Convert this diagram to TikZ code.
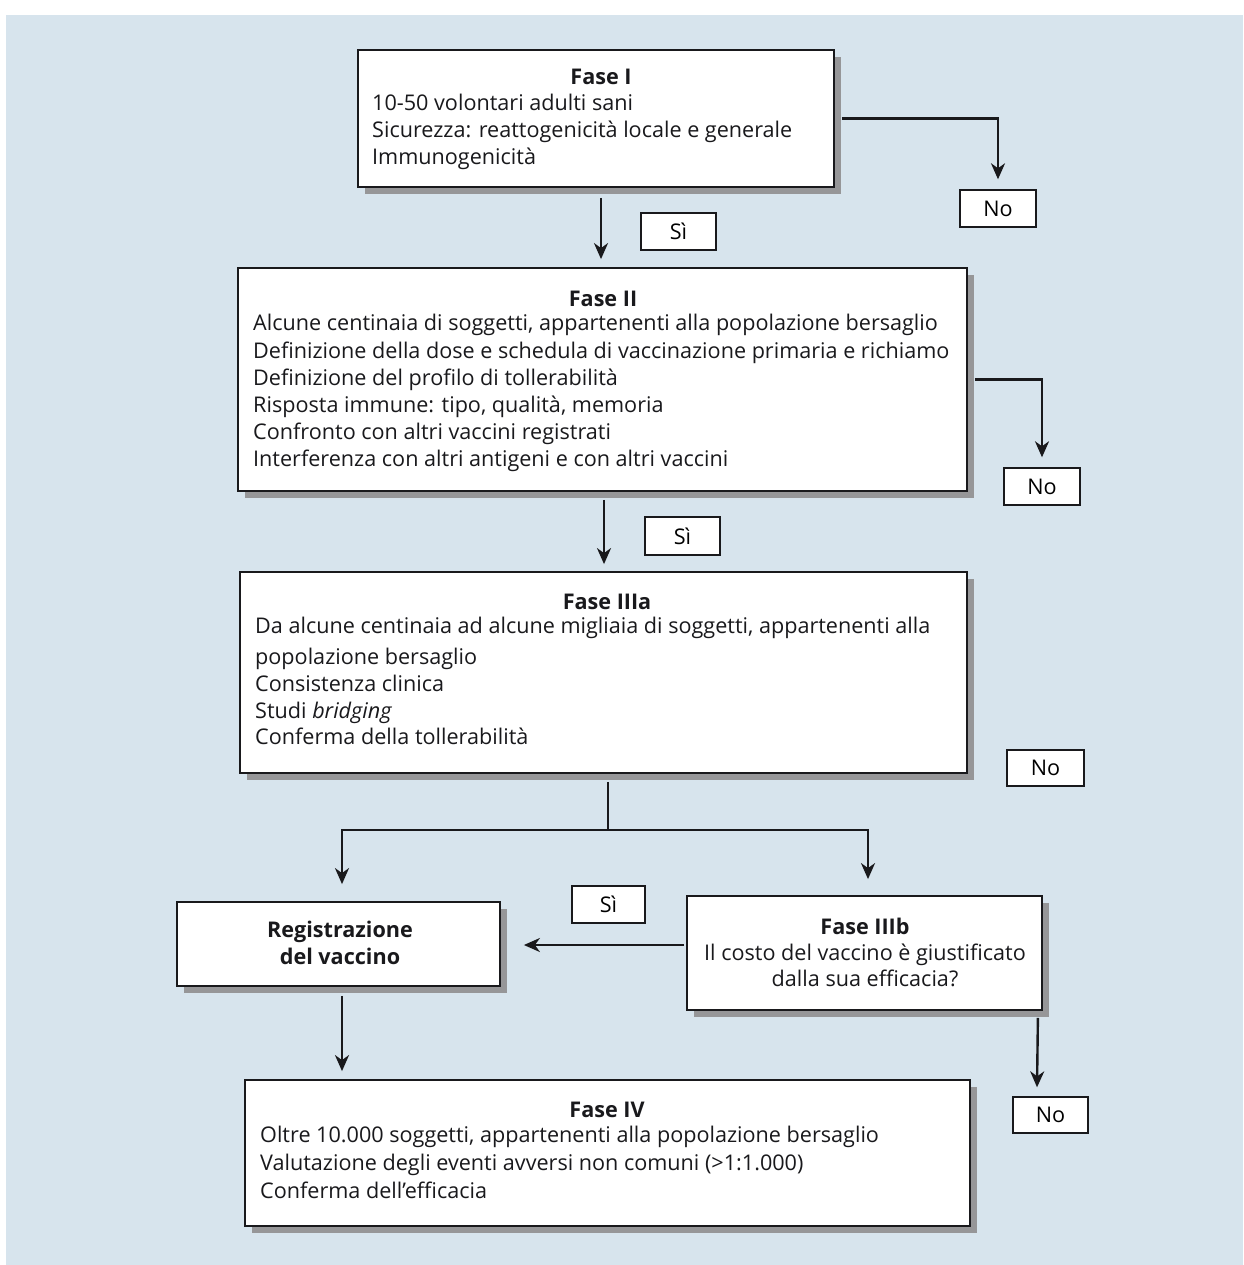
\documentclass[tikz,border=0pt]{standalone}
\usepackage{fontspec}
\setmainfont{Open Sans}
\usetikzlibrary{arrows.meta,shadows,calc}
\definecolor{bgblue}{RGB}{215,228,237}
\definecolor{shadowgray}{RGB}{150,150,152}
\definecolor{ink}{RGB}{25,25,28}
\newcommand\fs{\fontsize{21.6}{26}\selectfont}
\begin{document}
\begin{tikzpicture}[x=1pt,y=-1pt,
  box/.style={draw=ink, line width=1.8pt, fill=white, inner sep=0pt,
    general shadow={fill=shadowgray, shadow xshift=7pt, shadow yshift=-7pt}},
  tag/.style={draw=ink, line width=1.4pt, fill=white, inner sep=0pt, font=\fs},
  txt/.style={inner sep=0pt, font=\fs, text=ink},
  ttl/.style={inner sep=0pt, font=\fs\bfseries, text=ink},
  arr/.style={line width=2.4pt, draw=ink, -{Stealth[length=16pt,width=14pt,inset=5pt]}},
  lin/.style={line width=2.4pt, draw=ink}]
\fill[white] (0,0) rectangle (1243,1265);
\fill[bgblue] (6,15) rectangle (1243,1265);
% boxes
\node[box, minimum width=476pt, minimum height=137pt] (f1) at (596,118.5) {};
\node[box, minimum width=729pt, minimum height=223pt] (f2) at (602.5,379.5) {};
\node[box, minimum width=727pt, minimum height=201pt] (f3) at (603.5,672.5) {};
\node[box, minimum width=323pt, minimum height=84pt] (reg) at (338.5,944) {};
\node[box, minimum width=355pt, minimum height=114pt] (f3b) at (864.5,953) {};
\node[box, minimum width=725pt, minimum height=146pt] (f4) at (607.5,1153) {};
% tags
\node[tag, minimum width=76pt, minimum height=37pt] (no1) at (998,208.5) {No};
\node[tag, minimum width=75pt, minimum height=37pt] (si1) at (678.5,231.5) {Sì};
\node[tag, minimum width=76pt, minimum height=37pt] (no2) at (1042,486.5) {No};
\node[tag, minimum width=75pt, minimum height=38pt] (si2) at (682.5,536) {Sì};
\node[tag, minimum width=77pt, minimum height=36pt] (no3) at (1045.5,768) {No};
\node[tag, minimum width=73pt, minimum height=37pt] (si3) at (608.5,904.5) {Sì};
\node[tag, minimum width=75pt, minimum height=36pt] (no4) at (1050.5,1115) {No};
% Fase I
\node[ttl, anchor=base] (t1) at (601,85) {Fase I};
\node[txt, anchor=base west] (t1a) at (372,111) {10-50 volontari adulti sani};
\node[txt, anchor=base west] (t1b) at (372,138) {Sicurezza: reattogenicità locale e generale};
\node[txt, anchor=base west] (t1c) at (372,165) {Immunogenicità};
% Fase II
\node[ttl, anchor=base] (t2) at (603,306) {Fase II};
\node[txt, anchor=base west] (t2a) at (253,330) {Alcune centinaia di soggetti, appartenenti alla popolazione bersaglio};
\node[txt, anchor=base west] (t2b) at (253,358) {Definizione della dose e schedula di vaccinazione primaria e richiamo};
\node[txt, anchor=base west] (t2c) at (253,385) {Definizione del profilo di tollerabilità};
\node[txt, anchor=base west] (t2d) at (253,412) {Risposta immune: tipo, qualità, memoria};
\node[txt, anchor=base west] (t2e) at (253,439) {Confronto con altri vaccini registrati};
\node[txt, anchor=base west] (t2f) at (253,466) {Interferenza con altri antigeni e con altri vaccini};
% Fase IIIa
\node[ttl, anchor=base] (t3) at (607,609) {Fase IIIa};
\node[txt, anchor=base west] (t3a) at (255,633) {Da alcune centinaia ad alcune migliaia di soggetti, appartenenti alla};
\node[txt, anchor=base west] (t3b) at (255,664) {popolazione bersaglio};
\node[txt, anchor=base west] (t3c) at (255,691) {Consistenza clinica};
\node[txt, anchor=base west] (t3d) at (255,718) {Studi \textit{bridging}};
\node[txt, anchor=base west] (t3e) at (255,744) {Conferma della tollerabilità};
% Registrazione
\node[ttl, anchor=base] (tr1) at (340,937) {Registrazione};
\node[ttl, anchor=base] (tr2) at (340,964) {del vaccino};
% Fase IIIb
\node[ttl, anchor=base] (tb) at (865,934) {Fase IIIb};
\node[txt, anchor=base] (tba) at (865,960) {Il costo del vaccino è giustificato};
\node[txt, anchor=base] (tbb) at (865,986) {dalla sua efficacia?};
% Fase IV
\node[ttl, anchor=base] (t4) at (607,1117) {Fase IV};
\node[txt, anchor=base west] (t4a) at (260,1142) {Oltre 10.000 soggetti, appartenenti alla popolazione bersaglio};
\node[txt, anchor=base west] (t4b) at (260,1170) {Valutazione degli eventi avversi non comuni (>1:1.000)};
\node[txt, anchor=base west] (t4c) at (260,1198) {Conferma dell’efficacia};
% connectors
\draw[arr] ([xshift=7pt]f1.east) -| ([yshift=10pt]no1.north);
\draw[arr] ($(f1.south)+(5,10)$) -- ($(f2.north)+(-1.5,-8)$);
\draw[arr] ([xshift=7pt]f2.east) -| ([yshift=10pt]no2.north);
\draw[arr] ($(f2.south)+(1.5,8)$) -- ($(f3.north)+(0.5,-7)$);
\coordinate (split) at (608,830);
\draw[lin] ($(f3.south)+(4.5,8)$) -- (split);
\draw[arr] (split) -| ($(reg.north)+(3.5,-17)$);
\draw[arr] (split) -| ($(f3b.north)+(3.5,-16)$);
\draw[arr] ($(f3b.west)+(-2,-8)$) -- ($(reg.east)+(23,1)$);
\draw[arr] ($(reg.south)+(3.5,9)$) -- ($(f4.north)+(-265.5,-8)$);
\draw[arr] ($(f3b.south east)+(-5,7)$) -- ($(no4.north)+(-13.5,-9)$);
\end{tikzpicture}
\end{document}
